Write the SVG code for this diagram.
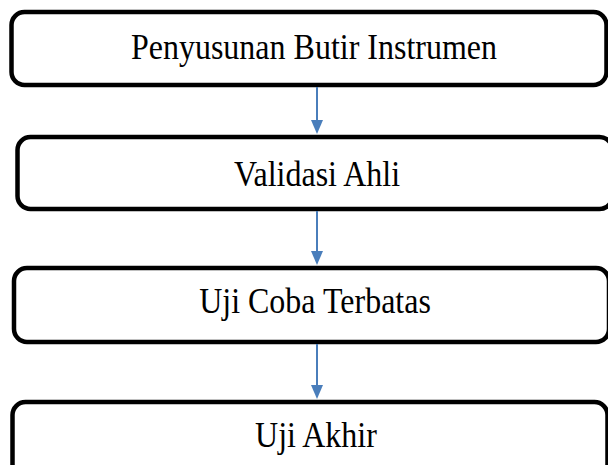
<svg xmlns="http://www.w3.org/2000/svg" width="608" height="465" viewBox="0 0 608 465">
<style>
.box{fill:#fff;stroke:#000;stroke-width:4.5}
.lbl{font-family:"Liberation Serif","Times New Roman",serif;font-size:32px;fill:#000;text-anchor:middle}
.con{stroke:#4a7ebb;stroke-width:2;fill:none}
.head{fill:#4a7ebb}
</style>
<rect width="608" height="465" fill="#fff"/>
<g id="n1"><rect class="box" x="11.5" y="12" width="595" height="73" rx="13"/><text class="lbl" transform="translate(314,59) scale(1,1.12)">Penyusunan Butir Instrumen</text></g>
<g id="n2"><rect class="box" x="17.5" y="137" width="595" height="72" rx="13"/><text class="lbl" transform="translate(317,186) scale(1,1.12)">Validasi Ahli</text></g>
<g id="n3"><rect class="box" x="14" y="268" width="595" height="74" rx="13"/><text class="lbl" transform="translate(315,313) scale(1,1.12)">Uji Coba Terbatas</text></g>
<g id="n4"><rect class="box" x="12.5" y="402" width="595" height="80" rx="13"/><text class="lbl" transform="translate(316,447) scale(1,1.12)">Uji Akhir</text></g>
<g id="connectors">
<line class="con" x1="317" y1="87" x2="317" y2="122"/>
<path class="head" d="M311,120 L323,120 L317,134 z"/>
<line class="con" x1="317" y1="211" x2="317" y2="253"/>
<path class="head" d="M311,251 L323,251 L317,265 z"/>
<line class="con" x1="317" y1="344" x2="317" y2="387"/>
<path class="head" d="M311,385 L323,385 L317,399 z"/>
</g>
</svg>
